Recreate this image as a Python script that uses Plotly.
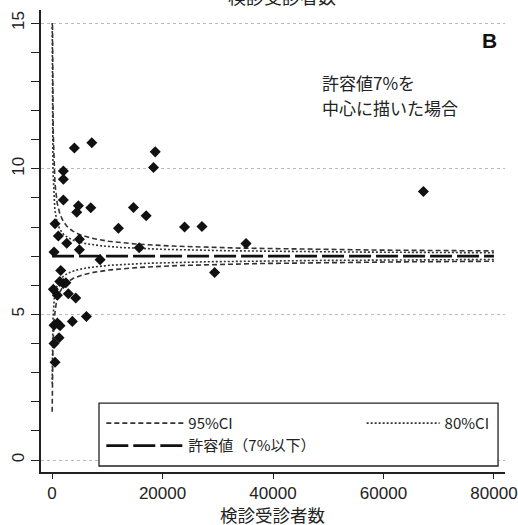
import numpy as np
import plotly.graph_objects as go

# ---- data ----
examinees = [4040, 7200, 18680, 18370, 2050, 2050, 2050, 4770, 4470, 7010,
             14740, 17040, 12020, 23990, 27140, 540, 1140, 2660, 4950, 4950,
             15780, 360, 8700, 29430, 1570, 1400, 2050, 2500, 240, 960,
             2950, 4290, 6220, 3680, 360, 960, 1450, 1270, 360, 540,
             67230, 35120]
rate_pct = [10.71, 10.89, 10.58, 10.04, 9.92, 9.64, 8.93, 8.73, 8.51, 8.66,
            8.67, 8.39, 7.96, 8.00, 8.02, 8.11, 7.69, 7.44, 7.58, 7.22,
            7.29, 7.14, 6.88, 6.44, 6.51, 6.13, 6.06, 6.09, 5.86, 5.66,
            5.71, 5.56, 4.93, 4.76, 4.63, 4.70, 4.61, 4.20, 4.00, 3.36,
            9.22, 7.43]

TARGET_RATE = 7.0          # 許容値 (%)
Z95, Z80 = 1.959964, 1.281552
N_MIN, N_MAX = 22, 80000
Y_CAP = 15

x_ticks = [0, 20000, 40000, 60000, 80000]
y_ticks = [0, 5, 10, 15]

FONT = "Liberation Sans, Arial, Noto Sans CJK JP, sans-serif"
JFONT = "Noto Sans CJK JP, sans-serif"

# ---- funnel limits (Wilson score interval around target rate) ----
n = np.geomspace(N_MIN, N_MAX, 600)
p = TARGET_RATE / 100


def wilson(z):
    c = (p + z * z / (2 * n)) / (1 + z * z / n)
    h = z * np.sqrt(p * (1 - p) / n + z * z / (4 * n * n)) / (1 + z * z / n)
    lo, hi = (c - h) * 100, (c + h) * 100
    hi = np.where(hi <= Y_CAP, hi, np.nan)
    return lo, hi


lo95, hi95 = wilson(Z95)
lo80, hi80 = wilson(Z80)

fig = go.Figure()
ci95 = dict(color="#333333", width=1.6, dash="5px,3px")
ci80 = dict(color="#333333", width=1.6, dash="2px,2px")

fig.add_trace(go.Scatter(x=n, y=hi95, mode="lines", line=ci95, name="95%CI",
                         legend="legend", legendrank=1, connectgaps=False))
fig.add_trace(go.Scatter(x=n, y=lo95, mode="lines", line=ci95, showlegend=False))
fig.add_trace(go.Scatter(x=n, y=hi80, mode="lines", line=ci80, name="80%CI",
                         legend="legend2", legendrank=2))
fig.add_trace(go.Scatter(x=n, y=lo80, mode="lines", line=ci80, showlegend=False))
fig.add_trace(go.Scatter(x=[0, N_MAX], y=[TARGET_RATE, TARGET_RATE], mode="lines",
                         line=dict(color="#111111", width=2.6, dash="22px,5px"),
                         name="許容値（7%以下）", legend="legend", legendrank=3))
fig.add_trace(go.Scatter(x=examinees, y=rate_pct, mode="markers",
                         marker=dict(symbol="diamond", size=8.5, color="#111111"),
                         showlegend=False))

# legend frame
fig.add_shape(type="rect", xref="paper", yref="paper",
              x0=0.125, x1=0.985, y0=0.013, y1=0.149,
              line=dict(color="#222222", width=1.3), fillcolor="white", layer="above")

fig.add_annotation(text="<b>B</b>", xref="paper", yref="paper", x=0.966, y=0.933,
                   showarrow=False, font=dict(family=FONT, size=21, color="#111111"),
                   xanchor="center", yanchor="middle")
fig.add_annotation(text="許容値7%を", xref="paper", yref="paper",
                   x=0.601, y=0.844, showarrow=False, align="left",
                   xanchor="left", yanchor="middle",
                   font=dict(family=JFONT, size=17, color="#222222"))
fig.add_annotation(text="中心に描いた場合", xref="paper", yref="paper",
                   x=0.601, y=0.790, showarrow=False, align="left",
                   xanchor="left", yanchor="middle",
                   font=dict(family=JFONT, size=17, color="#222222"))
# cut-off title at the top
fig.add_annotation(text="検診受診者数", xref="paper", yref="paper", x=0.52, y=1,
                   yshift=14, showarrow=False, yanchor="middle",
                   font=dict(family=JFONT, size=18, color="#222222"))
# x-axis title
fig.add_annotation(text="検診受診者数", xref="paper", yref="paper", x=0.498, y=0,
                   yshift=-42, showarrow=False, yanchor="middle",
                   font=dict(family=JFONT, size=17.5, color="#222222"))

fig.update_layout(
    width=518, height=525,
    margin=dict(l=41, r=13, t=10, b=53, autoexpand=False),
    paper_bgcolor="white", plot_bgcolor="white",
    font=dict(family=FONT, size=17, color="#222222"),
    legend=dict(x=0.130, y=0.141, xanchor="left", yanchor="top",
                bgcolor="rgba(0,0,0,0)", borderwidth=0, itemwidth=77,
                font=dict(family=JFONT, size=15, color="#222222"),
                tracegroupgap=0),
    legend2=dict(x=0.691, y=0.141, xanchor="left", yanchor="top",
                 bgcolor="rgba(0,0,0,0)", borderwidth=0, itemwidth=73,
                 font=dict(family=JFONT, size=15, color="#222222")),
    xaxis=dict(range=[-2000, 82000], tickvals=x_ticks, tickformat="d",
               ticks="outside", ticklen=5, automargin=False,
               tickcolor="#222222", showline=True, linecolor="#222222", linewidth=1.5,
               showgrid=False, zeroline=False),
    yaxis=dict(range=[-0.41, 15.45], tickvals=y_ticks, ticks="outside", ticklen=8,
               tickcolor="#222222", showline=True, linecolor="#222222", linewidth=1.5,
               tickangle=-90, showgrid=True, gridcolor="#bbbbbb", griddash="dot",
               gridwidth=1, zeroline=False, automargin=False,
               minor=dict(dtick=1, ticks="outside", ticklen=8, tickcolor="#222222",
                          showgrid=False)),
)

fig.write_html("out.html", config={"displayModeBar": False},
               post_script="document.body.style.margin='0';document.body.style.padding='0';")
